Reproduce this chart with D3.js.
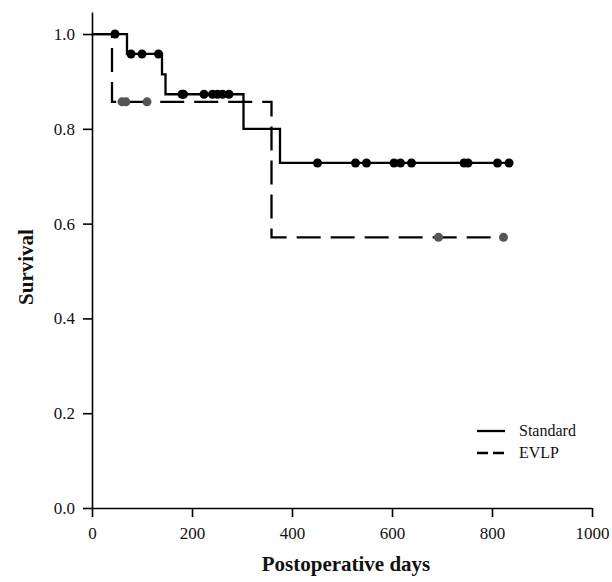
<!DOCTYPE html>
<html>
<head>
<meta charset="utf-8">
<script src="https://cdn.jsdelivr.net/npm/d3@7"></script>
<style>
  body { margin: 0; background: #fff; }
  svg { display: block; }
  .axis text { font-family: "Liberation Serif", "Times New Roman", serif; font-size: 17px; fill: #111; }
  .axis path, .axis line { stroke: #000; stroke-width: 1.6; }
  .title { font-family: "Liberation Serif", "Times New Roman", serif; font-weight: bold; font-size: 21px; fill: #111; }
  .legend text { font-family: "Liberation Serif", "Times New Roman", serif; font-size: 16px; fill: #111; }
</style>
</head>
<body>
<div id="chart"></div>
<script>
// Kaplan-Meier steps (days, survival)
var stdStepDays = [0, 70, 140, 147, 303, 376];
var stdStepSurv = [1.0, 0.958, 0.915, 0.873, 0.800, 0.728];
var stdEndDay = 834;
var stdCensorDays = [46, 78, 100, 133, 180, 183, 224, 241, 251, 261, 274,
                     451, 527, 549, 604, 617, 639, 744, 752, 811, 834];

var evlpStepDays = [0, 40, 359];
var evlpStepSurv = [1.0, 0.857, 0.571];
var evlpEndDay = 823;
var evlpCensorDays = [60, 68, 110, 693, 823];

var xTicks = [0, 200, 400, 600, 800, 1000];
var yTicks = [0.0, 0.2, 0.4, 0.6, 0.8, 1.0];
var legendNames = ["Standard", "EVLP"];

var width = 612, height = 582;

var svg = d3.select("#chart").append("svg")
    .attr("width", width)
    .attr("height", height);

var x = d3.scaleLinear().domain([0, 1000]).range([92, 592]);
var y = d3.scaleLinear().domain([0, 1.0465]).range([508, 12]);

// step path points + level lookup for censor marks
function stepPoints(days, surv, endDay) {
  var pts = days.map(function(d, i) { return {day: d, s: surv[i]}; });
  pts.push({day: endDay, s: surv[surv.length - 1]});
  return pts;
}
function survAt(days, surv, t) {
  var v = surv[0];
  for (var i = 0; i < days.length; i++) { if (days[i] <= t) v = surv[i]; }
  return v;
}

var line = d3.line()
    .x(function(d) { return x(d.day); })
    .y(function(d) { return y(d.s); })
    .curve(d3.curveStepAfter);

// axes
svg.append("g")
    .attr("class", "axis")
    .attr("transform", "translate(0," + y(0) + ")")
    .call(d3.axisBottom(x).tickValues(xTicks).tickSize(9).tickSizeOuter(0).tickPadding(10)
      .tickFormat(d3.format("d")));

svg.append("g")
    .attr("class", "axis")
    .attr("transform", "translate(" + x(0) + ",0)")
    .call(d3.axisLeft(y).tickValues(yTicks).tickSize(9).tickSizeOuter(0).tickPadding(8)
      .tickFormat(d3.format(".1f")));

// curves
svg.append("path")
    .datum(stepPoints(evlpStepDays, evlpStepSurv, evlpEndDay))
    .attr("d", line)
    .attr("fill", "none")
    .attr("stroke", "#000")
    .attr("stroke-width", 2.3)
    .attr("stroke-dasharray", "24,10");

svg.append("path")
    .datum(stepPoints(stdStepDays, stdStepSurv, stdEndDay))
    .attr("d", line)
    .attr("fill", "none")
    .attr("stroke", "#000")
    .attr("stroke-width", 2.3);

// censor marks
svg.selectAll(".cEvlp")
    .data(evlpCensorDays)
    .enter().append("circle")
    .attr("class", "cEvlp")
    .attr("cx", function(d) { return x(d); })
    .attr("cy", function(d) { return y(survAt(evlpStepDays, evlpStepSurv, d)); })
    .attr("r", 4.5)
    .attr("fill", "#555");

svg.selectAll(".cStd")
    .data(stdCensorDays)
    .enter().append("circle")
    .attr("class", "cStd")
    .attr("cx", function(d) { return x(d); })
    .attr("cy", function(d) { return y(survAt(stdStepDays, stdStepSurv, d)); })
    .attr("r", 4.5)
    .attr("fill", "#000");

// axis titles
svg.append("text")
    .attr("class", "title")
    .attr("text-anchor", "middle")
    .attr("transform", "translate(33," + ((y(0) + y(1)) / 2 - 4) + ") rotate(-90)")
    .text("Survival");

svg.append("text")
    .attr("class", "title")
    .attr("text-anchor", "middle")
    .attr("x", (x(0) + x(1000)) / 2 + 4)
    .attr("y", 571)
    .text("Postoperative days");

// legend
var legend = svg.append("g").attr("class", "legend");
legendNames.forEach(function(name, i) {
  var ly = 431 + i * 22;
  legend.append("line")
      .attr("x1", 477).attr("x2", 505)
      .attr("y1", ly).attr("y2", ly)
      .attr("stroke", "#000")
      .attr("stroke-width", 2.3)
      .attr("stroke-dasharray", i === 1 ? "11,5" : null);
  legend.append("text")
      .attr("x", 519)
      .attr("y", ly + 5)
      .text(name);
});
</script>
</body>
</html>
